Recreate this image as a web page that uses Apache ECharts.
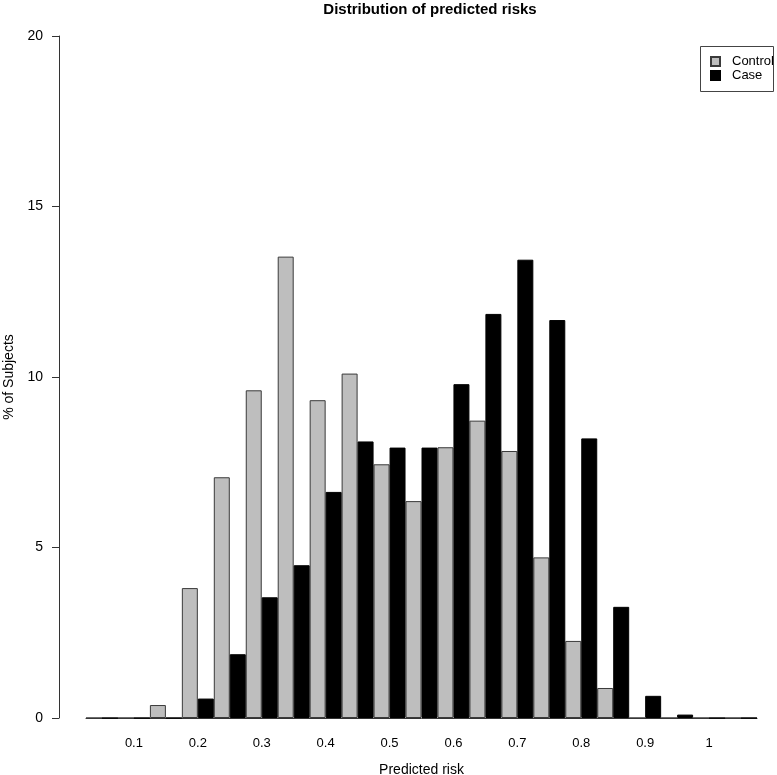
<!DOCTYPE html>
<html>
<head>
<meta charset="utf-8">
<script src="https://cdn.jsdelivr.net/npm/echarts@6/dist/echarts.min.js"></script>
<style>
html,body{margin:0;padding:0;background:#fff;}
#chart{width:777px;height:775px;}
</style>
</head>
<body>
<div id="chart"></div>
<script>
const categories = ['0.05','0.1','0.15','0.2','0.25','0.3','0.35','0.4','0.45','0.5','0.55','0.6','0.65','0.7','0.75','0.8','0.85','0.9','0.95','1','1.05'];
const tickLabels = ['0.1','0.2','0.3','0.4','0.5','0.6','0.7','0.8','0.9','1'];
const controlValues = [0, 0, 0.38, 3.81, 7.06, 9.61, 13.53, 9.32, 10.1, 7.44, 6.36, 7.94, 8.72, 7.83, 4.71, 2.26, 0.88, 0, 0, 0, 0];
const caseValues = [0, 0, 0, 0.57, 1.87, 3.54, 4.48, 6.63, 8.11, 7.93, 7.93, 9.79, 11.85, 13.44, 11.67, 8.2, 3.26, 0.65, 0.1, 0, 0];
const yTicks = [0, 5, 10, 15, 20];

const chart = echarts.init(document.getElementById('chart'), null, {renderer: 'canvas'});
const font = 'Liberation Sans, Arial, Helvetica, sans-serif';
chart.setOption({
  animation: false,
  backgroundColor: '#ffffff',
  title: {
    text: 'Distribution of predicted risks',
    left: 425, top: -3, textAlign: 'center',
    textStyle: {fontFamily: font, fontWeight: 'bold', fontSize: 15, color: '#000'}
  },
  legend: {
    orient: 'vertical',
    left: 710, top: 55,
    padding: 0,
    itemWidth: 9, itemHeight: 9, itemGap: 1,
    icon: 'rect',
    textStyle: {fontFamily: font, fontSize: 13, color: '#000', lineHeight: 13, padding: [0,0,0,7]},
    data: ['Control', 'Case']
  },
  graphic: [{
    type: 'rect', left: 698, top: 44,
    shape: {width: 73, height: 45},
    style: {fill: null, stroke: '#444', lineWidth: 1}
  }],
  grid: {left: 86, right: 20, top: 36, bottom: 57, containLabel: false, outerBoundsMode: 'none'},
  xAxis: {
    type: 'category',
    data: categories,
    name: 'Predicted risk',
    nameLocation: 'middle',
    nameGap: 45,
    nameTextStyle: {fontFamily: font, fontSize: 14, color: '#000'},
    axisLine: {show: true, lineStyle: {color: '#333', width: 1}},
    axisTick: {show: false},
    axisLabel: {
      interval: 0,
      margin: 19,
      fontFamily: font, fontSize: 13, color: '#000',
      formatter: function (v) { return tickLabels.indexOf(v) >= 0 ? v : ''; }
    }
  },
  yAxis: {
    type: 'value',
    min: 0, max: 20, interval: 5,
    offset: 27,
    name: '% of Subjects',
    nameLocation: 'middle',
    nameGap: 40,
    nameTextStyle: {fontFamily: font, fontSize: 14, color: '#000'},
    axisLine: {show: true, lineStyle: {color: '#333', width: 1}},
    axisTick: {show: true, length: 7, lineStyle: {color: '#333'}},
    axisLabel: {
      margin: 16, fontFamily: font, fontSize: 14, color: '#000',
      formatter: function (v) { return yTicks.indexOf(v) >= 0 ? String(v) : ''; }
    },
    splitLine: {show: false}
  },
  series: [
    {
      name: 'Control', type: 'bar', data: controlValues,
      barGap: '0%', barCategoryGap: '0%',
      itemStyle: {color: '#bebebe', borderColor: '#3a3a3a', borderWidth: 1}
    },
    {
      name: 'Case', type: 'bar', data: caseValues,
      barGap: '0%', barCategoryGap: '0%',
      itemStyle: {color: '#000000', borderColor: '#000000', borderWidth: 1}
    }
  ]
});
</script>
</body>
</html>
